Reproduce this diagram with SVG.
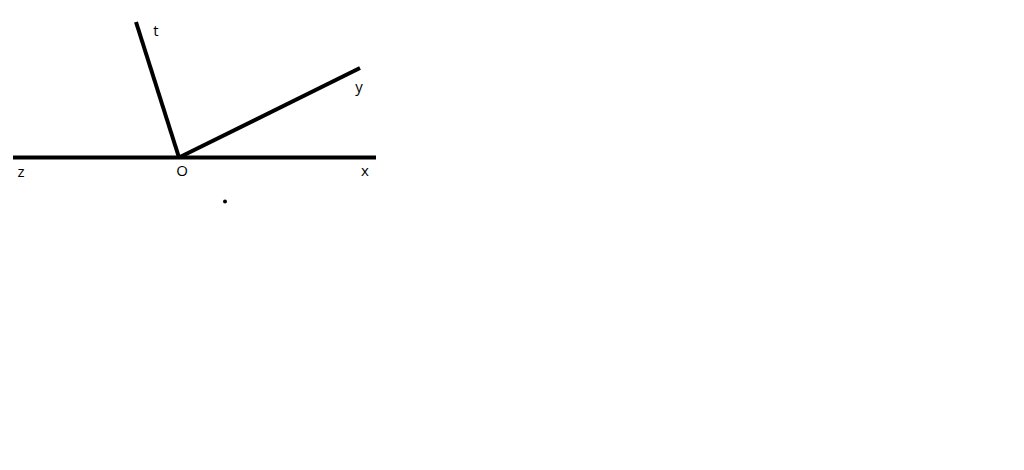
<svg xmlns="http://www.w3.org/2000/svg" width="1024" height="470" viewBox="0 0 1024 470">
<style>
.ln{stroke:#000;stroke-width:4;stroke-linecap:butt;fill:none}
.lb{font-family:"Open Sans","Liberation Sans",sans-serif;font-size:15px;fill:#000;text-anchor:middle}
</style>
<rect width="1024" height="470" fill="#fff"/>
<g id="connectors">
<line class="ln" x1="13" y1="157.5" x2="376" y2="157.5"/>
<line class="ln" x1="179" y1="157.5" x2="136" y2="22"/>
<line class="ln" x1="179" y1="157.5" x2="360" y2="68"/>
</g>
<g id="label-t"><text class="lb" x="156" y="36">t</text></g>
<g id="label-y"><text class="lb" x="359" y="92">y</text></g>
<g id="label-z"><text class="lb" x="21" y="177">z</text></g>
<g id="label-O"><text class="lb" x="182" y="176">O</text></g>
<g id="label-x"><text class="lb" x="365" y="176">x</text></g>
<g id="dot"><circle cx="225" cy="201.5" r="2" fill="#000"/></g>
</svg>
